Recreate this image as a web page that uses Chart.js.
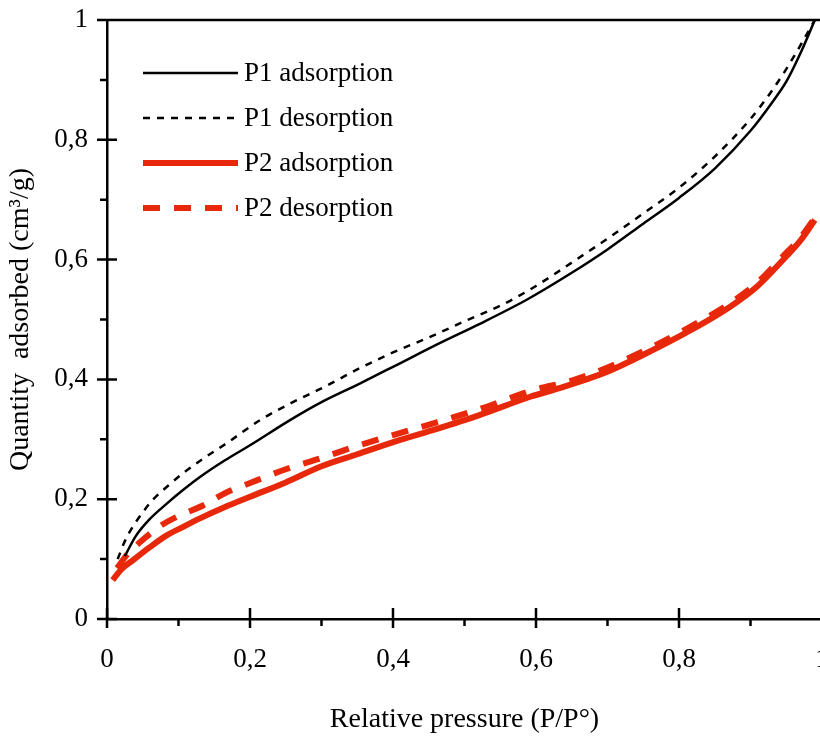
<!DOCTYPE html>
<html lang="en">
<head>
<meta charset="UTF-8">
<title>Isotherms P1 / P2</title>
<script src="https://cdn.jsdelivr.net/npm/chart.js@4.4.0/dist/chart.umd.min.js"></script>
<style>
  body { margin: 0; overflow: hidden; background: #fff; }
  canvas { display: block; }
</style>
</head>
<body>
<canvas id="myChart" width="840" height="736"></canvas>
<script>
// relative pressure (P/P°) -> quantity adsorbed (cm3/g), one pair of arrays per branch
const p1AdsX = [0.025, 0.04, 0.06, 0.084, 0.105, 0.13, 0.165, 0.2, 0.256, 0.3, 0.35, 0.4, 0.466, 0.52, 0.587, 0.65, 0.7, 0.75, 0.8, 0.85, 0.9, 0.93, 0.95, 0.97, 0.99];
const p1AdsY = [0.105, 0.138, 0.167, 0.193, 0.214, 0.237, 0.265, 0.29, 0.332, 0.362, 0.391, 0.421, 0.461, 0.492, 0.533, 0.578, 0.617, 0.66, 0.703, 0.752, 0.815, 0.862, 0.897, 0.945, 1.0];

const p1DesX = [0.015, 0.025, 0.036, 0.05, 0.064, 0.085, 0.106, 0.135, 0.168, 0.214, 0.26, 0.3, 0.354, 0.4, 0.452, 0.5, 0.555, 0.6, 0.65, 0.7, 0.75, 0.8, 0.85, 0.9, 0.93, 0.95, 0.97, 0.99];
const p1DesY = [0.1, 0.13, 0.154, 0.178, 0.199, 0.222, 0.243, 0.268, 0.294, 0.332, 0.362, 0.385, 0.419, 0.445, 0.471, 0.497, 0.526, 0.556, 0.595, 0.635, 0.677, 0.72, 0.772, 0.835, 0.882, 0.918, 0.958, 1.0];

const p2AdsX = [0.008, 0.02, 0.036, 0.06, 0.084, 0.105, 0.13, 0.165, 0.2, 0.25, 0.3, 0.35, 0.41, 0.46, 0.52, 0.592, 0.634, 0.7, 0.755, 0.81, 0.871, 0.91, 0.945, 0.97, 0.99];
const p2AdsY = [0.065, 0.083, 0.098, 0.12, 0.14, 0.153, 0.168, 0.187, 0.204, 0.228, 0.255, 0.275, 0.299, 0.317, 0.34, 0.371, 0.386, 0.413, 0.444, 0.478, 0.521, 0.556, 0.599, 0.632, 0.666];

const p2DesX = [0.014, 0.03, 0.046, 0.074, 0.1, 0.135, 0.165, 0.2, 0.25, 0.298, 0.35, 0.4, 0.46, 0.52, 0.596, 0.65, 0.7, 0.755, 0.81, 0.871, 0.91, 0.945, 0.97, 0.99];
const p2DesY = [0.085, 0.11, 0.128, 0.155, 0.172, 0.19, 0.21, 0.227, 0.25, 0.268, 0.289, 0.307, 0.328, 0.35, 0.382, 0.398, 0.42, 0.45, 0.484, 0.527, 0.562, 0.605, 0.637, 0.67];

const seriesNames = ['P1 adsorption', 'P1 desorption', 'P2 adsorption', 'P2 desorption'];
const xTickLabels = ['0', '0,2', '0,4', '0,6', '0,8', '1'];
const yTickLabels = ['0', '0,2', '0,4', '0,6', '0,8', '1'];

const RED = 'rgb(232, 40, 10)';
const FONT = 'Liberation Serif';

const pts = (xs, ys) => xs.map((v, i) => ({ x: v, y: ys[i] }));

// no extra room for the end labels, the plot runs right up to the edges
const noEdgePadding = s => {
  s.paddingTop = 0; s.paddingBottom = 0; s.paddingLeft = 0; s.paddingRight = 0;
};

// axis ticks: major ticks cross the axis, minor ones point out
const axisTicks = {
  id: 'axisTicks',
  afterDraw(chart) {
    const { ctx, chartArea: a, scales: { x, y } } = chart;
    ctx.save();
    ctx.strokeStyle = '#000';
    ctx.lineWidth = 2.5;
    ctx.beginPath();
    // top frame line
    const yTop = y.getPixelForValue(1);
    ctx.moveTo(a.left - 10, yTop);
    ctx.lineTo(chart.width, yTop);
    x.ticks.forEach((t, i) => {
      const px = x.getPixelForValue(t.value);
      ctx.moveTo(px, a.bottom - 11);
      ctx.lineTo(px, a.bottom + 9);
      if (i < x.ticks.length - 1) {
        const mx = x.getPixelForValue((t.value + x.ticks[i + 1].value) / 2);
        ctx.moveTo(mx, a.bottom);
        ctx.lineTo(mx, a.bottom + 7);
      }
    });
    y.ticks.forEach((t, i) => {
      const py = y.getPixelForValue(t.value);
      ctx.moveTo(a.left - 10, py);
      ctx.lineTo(a.left + 10, py);
      if (i < y.ticks.length - 1) {
        const my = y.getPixelForValue((t.value + y.ticks[i + 1].value) / 2);
        ctx.moveTo(a.left - 7, my);
        ctx.lineTo(a.left, my);
      }
    });
    ctx.stroke();
    ctx.restore();
  }
};

// legend inside the plot, upper left
const insideLegend = {
  id: 'insideLegend',
  afterDatasetsDraw(chart, args, opts) {
    const ctx = chart.ctx;
    chart.data.datasets.forEach((ds, i) => {
      const yy = opts.top + i * opts.rowGap;
      ctx.save();
      ctx.strokeStyle = ds.borderColor;
      ctx.lineWidth = ds.borderWidth;
      ctx.setLineDash(ds.borderDash || []);
      ctx.beginPath();
      ctx.moveTo(opts.left, yy);
      ctx.lineTo(opts.left + opts.lineLen, yy);
      ctx.stroke();
      ctx.setLineDash([]);
      ctx.fillStyle = '#000';
      ctx.font = opts.font;
      ctx.textBaseline = 'middle';
      ctx.fillText(ds.label, opts.left + opts.lineLen + 6, yy + 1);
      ctx.restore();
    });
  }
};

const ctx = document.getElementById('myChart').getContext('2d');
const myChart = new Chart(ctx, {
  type: 'scatter',
  data: {
    datasets: [
      { label: seriesNames[0], data: pts(p1AdsX, p1AdsY), borderColor: '#000', borderWidth: 2.5 },
      { label: seriesNames[1], data: pts(p1DesX, p1DesY), borderColor: '#000', borderWidth: 2.5, borderDash: [7, 7] },
      { label: seriesNames[2], data: pts(p2AdsX, p2AdsY), borderColor: RED, borderWidth: 6 },
      { label: seriesNames[3], data: pts(p2DesX, p2DesY), borderColor: RED, borderWidth: 6, borderDash: [17, 14] }
    ].map(d => Object.assign(d, { showLine: true, pointRadius: 0, cubicInterpolationMode: 'monotone', fill: false }))
  },
  plugins: [axisTicks, insideLegend],
  options: {
    responsive: false,
    animation: false,
    layout: { padding: { top: 20, right: 18, left: 0, bottom: 0 } },
    plugins: {
      legend: { display: false },
      tooltip: { enabled: false },
      insideLegend: { left: 143, top: 73, rowGap: 45, lineLen: 95, font: '27px "' + FONT + '"' }
    },
    scales: {
      x: {
        type: 'linear',
        min: 0, max: 1,
        afterFit: s => { s.height = 117; noEdgePadding(s); },
        grid: { display: false, drawTicks: false },
        border: { display: true, color: '#000', width: 2.5 },
        ticks: {
          stepSize: 0.2, padding: 25, color: '#000',
          font: { family: FONT, size: 27 },
          maxRotation: 0,
          callback: (v, i) => xTickLabels[i]
        },
        title: {
          display: true, text: 'Relative pressure (P/P°)', color: '#000',
          font: { family: FONT, size: 28 }, padding: { top: 0, bottom: 0 }
        }
      },
      y: {
        type: 'linear',
        min: 0, max: 1,
        afterFit: s => { s.width = 107; noEdgePadding(s); },
        grid: { display: false, drawTicks: false },
        border: { display: true, color: '#000', width: 2.5 },
        ticks: {
          stepSize: 0.2, padding: 19, color: '#000',
          font: { family: FONT, size: 27 },
          callback: (v, i) => yTickLabels[i]
        },
        title: {
          display: true, text: 'Quantity  adsorbed (cm³/g)', color: '#000',
          font: { family: FONT, size: 28 }, padding: { top: 4, bottom: 0 }
        }
      }
    }
  }
});
</script>
</body>
</html>
